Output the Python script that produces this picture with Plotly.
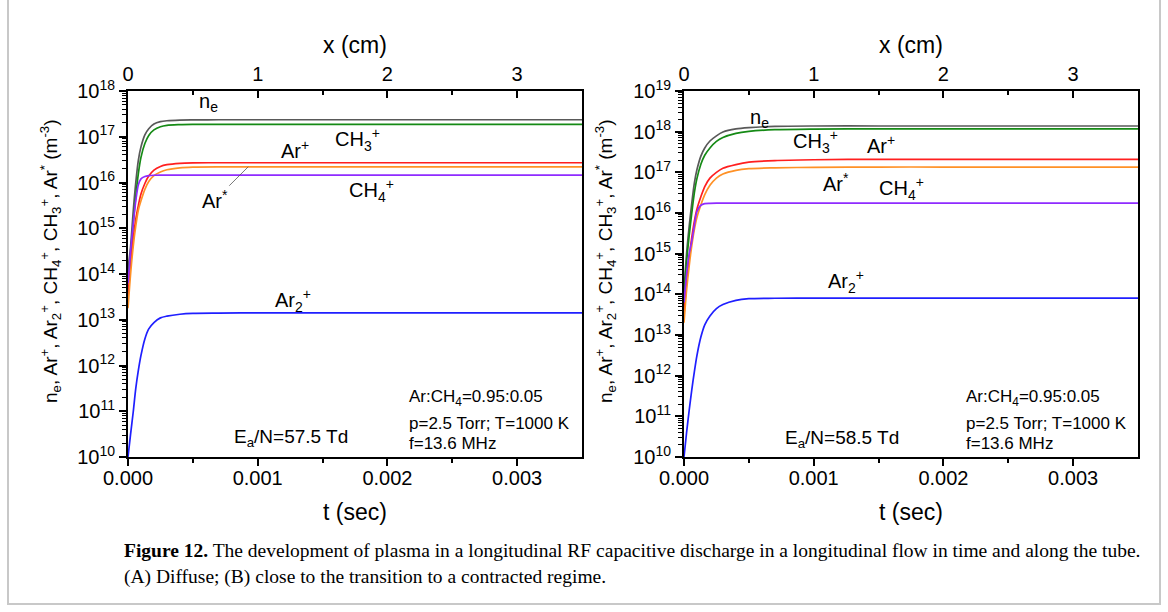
import plotly.graph_objects as go

# ---------------- data ----------------
t_sec = [0, 2e-5, 4e-5, 6e-5, 8e-5, 1e-4, 1.3e-4, 1.6e-4, 2e-4, 2.5e-4,
         3e-4, 4e-4, 5e-4, 7e-4, 1e-3, 1.5e-3, 2e-3, 2.5e-3, 3e-3, 3.5e-3]

# (A) Ea/N = 57.5 Td
ne_A  = [1.3e14, 4.0e14, 2.3e15, 1.0e16, 3.1e16, 6.0e16, 1.1e17, 1.5e17, 1.9e17, 2.14e17,
         2.24e17, 2.32e17, 2.34e17, 2.35e17, 2.35e17, 2.35e17, 2.35e17, 2.35e17, 2.35e17, 2.35e17]
ch3_A = [1.0e14, 2.5e14, 1.26e15, 5.0e15, 1.58e16, 3.55e16, 7.1e16, 1.07e17, 1.41e17, 1.66e17,
         1.78e17, 1.84e17, 1.86e17, 1.87e17, 1.87e17, 1.87e17, 1.87e17, 1.87e17, 1.87e17, 1.87e17]
arp_A = [3.2e13, 1.58e14, 5.6e14, 1.58e15, 3.16e15, 5.6e15, 9.5e15, 1.38e16, 1.86e16, 2.24e16,
         2.45e16, 2.63e16, 2.69e16, 2.7e16, 2.7e16, 2.7e16, 2.7e16, 2.7e16, 2.7e16, 2.7e16]
ars_A = [1.78e13, 1.0e14, 3.98e14, 1.12e15, 2.51e15, 3.98e15, 7.08e15, 1.05e16, 1.41e16, 1.7e16,
         1.9e16, 2.09e16, 2.17e16, 2.2e16, 2.2e16, 2.2e16, 2.2e16, 2.2e16, 2.2e16, 2.2e16]
ch4_A = [6.3e13, 3.16e14, 1.26e15, 3.98e15, 8.9e15, 1.2e16, 1.35e16, 1.41e16, 1.44e16, 1.45e16,
         1.45e16, 1.45e16, 1.45e16, 1.45e16, 1.45e16, 1.45e16, 1.45e16, 1.45e16, 1.45e16, 1.45e16]
ar2_A = [1.0e10, 3.16e10, 9.5e10, 3.16e11, 7.9e11, 1.66e12, 3.8e12, 6.3e12, 8.7e12, 1.1e13,
         1.2e13, 1.32e13, 1.38e13, 1.4e13, 1.41e13, 1.41e13, 1.41e13, 1.41e13, 1.41e13, 1.41e13]

# (B) Ea/N = 58.5 Td
ne_B  = [1.26e14, 1.0e15, 4.7e15, 1.74e16, 5.5e16, 1.17e17, 2.51e17, 3.98e17, 5.9e17, 7.9e17,
         9.8e17, 1.17e18, 1.26e18, 1.35e18, 1.38e18, 1.38e18, 1.38e18, 1.38e18, 1.38e18, 1.38e18]
ch3_B = [1.0e14, 6.3e14, 2.82e15, 1.0e16, 3.16e16, 7.1e16, 1.58e17, 2.63e17, 3.98e17, 5.75e17,
         7.2e17, 9.1e17, 1.02e18, 1.12e18, 1.16e18, 1.17e18, 1.17e18, 1.17e18, 1.17e18, 1.17e18]
arp_B = [3.2e13, 2.0e14, 7.9e14, 2.51e15, 6.3e15, 1.26e16, 2.51e16, 4.47e16, 7.2e16, 1.0e17,
         1.26e17, 1.55e17, 1.78e17, 1.95e17, 2.04e17, 2.09e17, 2.09e17, 2.09e17, 2.09e17, 2.09e17]
ars_B = [2.0e13, 1.26e14, 5.0e14, 1.58e15, 3.98e15, 7.9e15, 1.58e16, 2.82e16, 4.8e16, 7.2e16,
         9.1e16, 1.12e17, 1.23e17, 1.29e17, 1.33e17, 1.35e17, 1.35e17, 1.35e17, 1.35e17, 1.35e17]
ch4_B = [6.3e13, 3.16e14, 1.0e15, 2.0e15, 5.0e15, 1.1e16, 1.55e16, 1.7e16, 1.73e16, 1.74e16,
         1.74e16, 1.74e16, 1.74e16, 1.74e16, 1.74e16, 1.74e16, 1.74e16, 1.74e16, 1.74e16, 1.74e16]
ar2_B = [1.0e10, 4.0e10, 1.41e11, 4.5e11, 1.26e12, 3.16e12, 8.9e12, 1.78e13, 2.95e13, 4.47e13,
         5.6e13, 7.1e13, 7.8e13, 8.0e13, 8.1e13, 8.1e13, 8.1e13, 8.1e13, 8.1e13, 8.1e13]

t_ticks = [0, 0.001, 0.002, 0.003]
t_ticktext = ["0.000", "0.001", "0.002", "0.003"]
x_cm_ticks = [0, 1, 2, 3]
y_exp_A = list(range(10, 19))
y_exp_B = list(range(10, 20))

# ---------------- style ----------------
FONT = "Liberation Sans, Arial, sans-serif"
COL = {"ne": "#595959", "ch3": "#158a15", "arp": "#ff1f1f", "ars": "#ff9126",
       "ch4": "#8f2bff", "ar2": "#1f1fff"}
LW = 1.7

fig = go.Figure()

def add_set(xa, ya, series):
    for key, vals in series:
        fig.add_trace(go.Scatter(x=t_sec, y=vals, mode="lines", xaxis=xa, yaxis=ya,
                                 line=dict(color=COL[key], width=LW, shape="spline", smoothing=0.8),
                                 showlegend=False, hoverinfo="skip"))

add_set("x", "y", [("ne", ne_A), ("ch3", ch3_A), ("arp", arp_A), ("ars", ars_A), ("ch4", ch4_A), ("ar2", ar2_A)])
add_set("x2", "y2", [("ne", ne_B), ("ch3", ch3_B), ("arp", arp_B), ("ars", ars_B), ("ch4", ch4_B), ("ar2", ar2_B)])

# empty carrier traces so that the top x (cm) axes get drawn
for xa, ya in [("x3", "y"), ("x4", "y2")]:
    fig.add_trace(go.Scatter(x=x_cm_ticks, y=[None] * len(x_cm_ticks), mode="lines",
                             xaxis=xa, yaxis=ya, showlegend=False, hoverinfo="skip"))

dom_A = [128 / 1168, 582 / 1168]
dom_B = [684 / 1168, 1138 / 1168]
ydom = [1 - 457 / 612, 1 - 91 / 612]
TICKFONT = dict(family=FONT, size=20, color="black")

def xax(domain, anchor):
    return dict(domain=domain, anchor=anchor, range=[0, 0.0035], tickmode="array",
                tickvals=t_ticks, ticktext=t_ticktext, ticks="outside", ticklen=7, tickwidth=2,
                tickcolor="black", showline=True, linewidth=2, linecolor="black", mirror=True,
                showgrid=False, zeroline=False, tickfont=TICKFONT, automargin=False,
                ticklabelstandoff=-5,
                minor=dict(tickmode="array", tickvals=[0.0005, 0.0015, 0.0025], ticks="outside",
                           ticklen=4, tickwidth=2, tickcolor="black", showgrid=False))

def xtop(overlay, anchor):
    return dict(overlaying=overlay, anchor=anchor, side="top", range=[0, 3.5], tickmode="array",
                tickvals=x_cm_ticks, ticktext=[str(v) for v in x_cm_ticks], ticks="inside",
                ticklen=7, tickwidth=2, tickcolor="black", showline=True, linewidth=2,
                linecolor="black", showgrid=False, zeroline=False, automargin=False,
                tickfont=TICKFONT,
                minor=dict(tickmode="array", tickvals=[0.5, 1.5, 2.5], ticks="inside",
                           ticklen=4, tickwidth=2, tickcolor="black", showgrid=False))

def yax(anchor, exps):
    minor_vals = [m * 10.0 ** e for e in exps[:-1] for m in range(2, 10)]
    return dict(domain=ydom, anchor=anchor, type="log", range=[exps[0], exps[-1]],
                tickmode="array", tickvals=[10.0 ** e for e in exps],
                ticktext=["10<sup>%d</sup>" % e for e in exps], ticks="outside", ticklen=7,
                tickwidth=2, tickcolor="black", showline=True, linewidth=2, linecolor="black",
                mirror=True, showgrid=False, zeroline=False, automargin=False,
                tickfont=TICKFONT,
                minor=dict(tickmode="array", tickvals=minor_vals, ticks="outside", ticklen=4,
                           tickwidth=1.3, tickcolor="black", showgrid=False))

ann = []

def txt(text, x, y, xref, yref, size=20, xanchor="center", **kw):
    d = dict(text=text, x=x, y=y, xref=xref, yref=yref, showarrow=False, xanchor=xanchor,
             yanchor="middle", font=dict(family=FONT, size=size, color="black"))
    d.update(kw)
    ann.append(d)

ytitle = ("n<sub>e</sub>, Ar<sup>+</sup>, Ar<sub>2</sub><sup>+</sup>, CH<sub>4</sub><sup>+</sup>, "
          "CH<sub>3</sub><sup>+</sup>, Ar<sup>*</sup> (m<sup>-3</sup>)")

panels = [
    (dom_A, "x", "y", 407,
     [("n<sub>e</sub>", 0.00062, 17.74), ("CH<sub>3</sub><sup>+</sup>", 0.00177, 16.93),
      ("Ar<sup>+</sup>", 0.00129, 16.73), ("CH<sub>4</sub><sup>+</sup>", 0.00188, 15.83),
      ("Ar<sub>2</sub><sup>+</sup>", 0.00127, 13.42)],
     ("E<sub>a</sub>/N=57.5 Td", 0.00126, 10.42)),
    (dom_B, "x2", "y2", 964,
     [("n<sub>e</sub>", 0.00058, 18.33), ("CH<sub>3</sub><sup>+</sup>", 0.00101, 17.77),
      ("Ar<sup>+</sup>", 0.00152, 17.69), ("Ar<sup>*</sup>", 0.00117, 16.74),
      ("CH<sub>4</sub><sup>+</sup>", 0.00168, 16.61), ("Ar<sub>2</sub><sup>+</sup>", 0.00125, 14.32)],
     ("E<sub>a</sub>/N=58.5 Td", 0.00122, 10.44)),
]
for dom, xr, yr, left_px, labels, ea in panels:
    for text, x, y in labels:
        txt(text, x, y, xr, yr, size=20)
    txt(ea[0], ea[1], ea[2], xr, yr, size=19)
    cx = (dom[0] + dom[1]) / 2
    txt("t (sec)", cx, 1 - 512 / 612, "paper", "paper", size=23)
    txt("x (cm)", cx, 1 - 45 / 612, "paper", "paper", size=23)
    txt("Ar:CH<sub>4</sub>=0.95:0.05", left_px / 1168, 1 - 398 / 612, "paper", "paper", size=17, xanchor="left")
    txt("p=2.5 Torr; T=1000 K", left_px / 1168, 1 - 423 / 612, "paper", "paper", size=17, xanchor="left")
    txt("f=13.6 MHz", left_px / 1168, 1 - 443 / 612, "paper", "paper", size=17, xanchor="left")

# y titles
txt(ytitle, 50 / 1168, 1 - 261 / 612, "paper", "paper", size=19, textangle=-90)
txt(ytitle, 605 / 1168, 1 - 261 / 612, "paper", "paper", size=19, textangle=-90)

# Ar* label with leader line (left panel)
ann.append(dict(text="Ar<sup>*</sup>", x=0.000927, y=16.345, xref="x", yref="y", showarrow=True,
                arrowhead=0, arrowwidth=0.8, arrowcolor="#555555", ax=-33, ay=33, standoff=0,
                font=dict(family=FONT, size=20, color="black")))

# caption
SERIF = "Liberation Serif, Times New Roman, serif"
ann.append(dict(text="<b>Figure 12.</b> The development of plasma in a longitudinal RF capacitive discharge "
                     "in a longitudinal flow in time and along the tube.",
                x=122 / 1168, y=1 - 550 / 612, xref="paper", yref="paper", showarrow=False,
                xanchor="left", yanchor="middle", font=dict(family=SERIF, size=19.5, color="black")))
ann.append(dict(text="(A) Diffuse; (B) close to the transition to a contracted regime.",
                x=122 / 1168, y=1 - 577 / 612, xref="paper", yref="paper", showarrow=False,
                xanchor="left", yanchor="middle", font=dict(family=SERIF, size=19.5, color="black")))

fig.update_layout(
    width=1168, height=612, margin=dict(l=0, r=0, t=0, b=0, autoexpand=False),
    paper_bgcolor="white", plot_bgcolor="white", showlegend=False,
    xaxis=xax(dom_A, "y"), yaxis=yax("x", y_exp_A),
    xaxis2=xax(dom_B, "y2"), yaxis2=yax("x2", y_exp_B),
    xaxis3=xtop("x", "y"), xaxis4=xtop("x2", "y2"),
    annotations=ann,
    shapes=[dict(type="rect", xref="paper", yref="paper", x0=8 / 1168, x1=1160 / 1168,
                 y0=1 - 604 / 612, y1=1.05, line=dict(color="#c8c8c8", width=2))],
)

fig.write_html("out.html")
